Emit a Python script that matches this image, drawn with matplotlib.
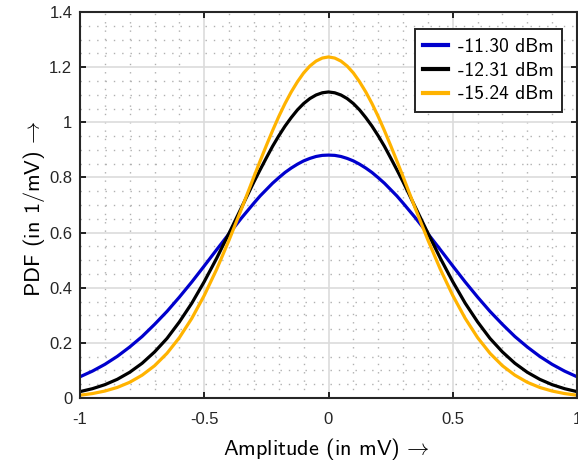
import matplotlib
matplotlib.use("Agg")
import matplotlib.pyplot as plt
from matplotlib.ticker import MultipleLocator

# sampled x positions (mV), left half up to the peak at 0
half_x = [-1.00, -0.95, -0.90, -0.85, -0.80, -0.75, -0.70, -0.65, -0.60, -0.55,
          -0.50, -0.45, -0.40, -0.35, -0.30, -0.275, -0.25, -0.225, -0.20, -0.175,
          -0.15, -0.125, -0.10, -0.075, -0.05, -0.025]

half_blue = [0.077, 0.0975, 0.122, 0.151, 0.185, 0.223, 0.267, 0.314, 0.366, 0.421,
             0.479, 0.538, 0.596, 0.653, 0.707, 0.733, 0.756, 0.779, 0.799, 0.818,
             0.834, 0.848, 0.860, 0.869, 0.876, 0.880]
peak_blue = 0.881
half_black = [0.0232, 0.0338, 0.0483, 0.0678, 0.0933, 0.126, 0.167, 0.216, 0.276, 0.344,
              0.422, 0.507, 0.598, 0.691, 0.784, 0.828, 0.871, 0.913, 0.951, 0.986,
              1.017, 1.045, 1.068, 1.086, 1.099, 1.107]
peak_black = 1.110
half_orange = [0.0101, 0.0161, 0.0252, 0.0383, 0.0570, 0.0828, 0.117, 0.162, 0.219, 0.289,
               0.372, 0.467, 0.573, 0.686, 0.803, 0.860, 0.916, 0.970, 1.021, 1.068,
               1.110, 1.147, 1.179, 1.204, 1.222, 1.233]
peak_orange = 1.237

amplitude = half_x + [0.0] + [-v for v in half_x[::-1]]
pdf_blue = half_blue + [peak_blue] + half_blue[::-1]
pdf_black = half_black + [peak_black] + half_black[::-1]
pdf_orange = half_orange + [peak_orange] + half_orange[::-1]

labels = ["-11.30 dBm", "-12.31 dBm", "-15.24 dBm"]
colors = ["#0000cd", "#000000", "#ffb300"]

plt.rcParams['mathtext.fontset'] = 'cm'

fig = plt.figure(figsize=(5.78, 4.67), dpi=100)
ax = fig.add_axes([80/578, (467-398)/467, (577-80)/578, (398-12)/467])

for y, c, l in zip([pdf_blue, pdf_black, pdf_orange], colors, labels):
    ax.plot(amplitude, y, color=c, lw=2.3, label=l)

ax.set_xlim(-1, 1)
ax.set_ylim(0, 1.4)
ax.xaxis.set_major_locator(MultipleLocator(0.5))
ax.xaxis.set_minor_locator(MultipleLocator(0.1))
ax.yaxis.set_major_locator(MultipleLocator(0.2))
ax.yaxis.set_minor_locator(MultipleLocator(0.05))

def fmt(v, p):
    return '%g' % round(v, 2)
ax.xaxis.set_major_formatter(plt.FuncFormatter(fmt))
ax.yaxis.set_major_formatter(plt.FuncFormatter(fmt))

ax.grid(True, which='major', color='#dcdcdc', lw=1.2, ls='-')
ax.grid(True, which='minor', color='#b0b0b0', lw=1.0, ls=(0, (1, 5)))
ax.set_axisbelow(True)

ax.tick_params(which='major', direction='in', length=4, width=1.2, top=True, right=True,
               labelsize=12, labelcolor='#262626')
ax.tick_params(axis='x', which='major', pad=10)
ax.tick_params(axis='y', which='major', pad=5.5)
ax.tick_params(which='minor', length=0, top=True, right=True)
for lab in ax.get_xticklabels() + ax.get_yticklabels():
    lab.set_fontfamily('Liberation Sans')
for s in ax.spines.values():
    s.set_linewidth(1.5)
    s.set_color('#262626')

ax.set_xlabel('Amplitude (in mV)$\\,\\rightarrow$', family='cmss10', fontsize=16)
ax.set_ylabel('PDF (in 1/mV)$\\,\\rightarrow$', family='cmss10', fontsize=16)
ax.xaxis.set_label_coords(0.496, -0.098)
ax.yaxis.set_label_coords(-0.066, 0.49)

leg = ax.legend(loc='upper right', bbox_to_anchor=(562/578, (467-29)/467),
                bbox_transform=fig.transFigure,
                prop={'family': 'cmss10', 'size': 14}, fancybox=False, framealpha=1,
                edgecolor='#262626', handlelength=1.25, handletextpad=0.5,
                labelspacing=0.3, borderpad=0.45, borderaxespad=0)
leg.get_frame().set_linewidth(1.4)
for line in leg.get_lines():
    line.set_linewidth(3)

fig.savefig('out.png', dpi=100)
